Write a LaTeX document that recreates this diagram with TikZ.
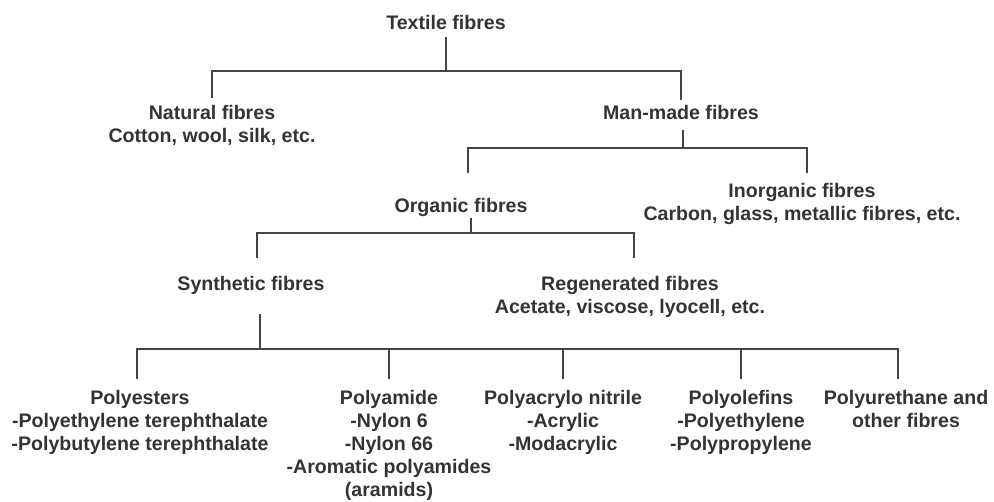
\documentclass[tikz,border=0pt]{standalone}
\usepackage{fontspec}
\setmainfont{Liberation Sans}
\usepackage{xcolor}
\usetikzlibrary{positioning,calc}
\definecolor{ink}{HTML}{333333}
\definecolor{wire}{HTML}{444444}

\begin{document}
\begin{tikzpicture}[
  x=0.5pt,y=-0.5pt,
  font=\fontsize{9.8}{11.5}\selectfont\bfseries,
  fib/.style={anchor=north,inner sep=0pt,align=center,text=ink},
  branch/.style={draw=wire,line width=1pt}
]
\useasboundingbox (0,0) rectangle (994,502);

% Fibre classes
\node[fib] (textile)   at (446,15)  {Textile fibres};
\node[fib] (natural)   at (212,105) {Natural fibres\\Cotton, wool, silk, etc.};
\node[fib] (manmade)   at (681,105) {Man-made fibres};
\node[fib] (organic)   at (461,198) {Organic fibres};
\node[fib] (inorganic) at (802,183) {Inorganic fibres\\Carbon, glass, metallic fibres, etc.};
\node[fib] (synthetic) at (251,276) {Synthetic fibres};
\node[fib] (regen)     at (630,276) {Regenerated fibres\\Acetate, viscose, lyocell, etc.};

% Synthetic families
\node[fib] (polyester) at (140,390) {Polyesters\\-Polyethylene terephthalate\\-Polybutylene terephthalate};
\node[fib] (polyamide) at (389,390) {Polyamide\\-Nylon 6\\-Nylon 66\\-Aromatic polyamides\\(aramids)};
\node[fib] (pan)       at (563,390) {Polyacrylo nitrile\\-Acrylic\\-Modacrylic};
\node[fib] (olefin)    at (741,390) {Polyolefins\\-Polyethylene\\-Polypropylene};
\node[fib] (pu)        at (906,390) {Polyurethane and\\other fibres};

% Joints of the tree
\coordinate (jtex) at (446,71);
\coordinate (jman) at (683,148);
\coordinate (jorg) at (471,233);
\coordinate (jsyn) at (260,349);

% Textile -> natural / man-made
\draw[branch] ([yshift=-3.5pt]textile.south) -- (jtex);
\draw[branch] ([yshift=3.5pt]natural.north) |- (jtex) -| ([yshift=2.5pt]manmade.north);

% Man-made -> organic / inorganic
\draw[branch] ([xshift=1pt,yshift=-5pt]manmade.south) -- (jman);
\draw[branch] ([xshift=3.5pt,yshift=12.5pt]organic.north) |- (jman) -| ([xshift=2.5pt,yshift=5pt]inorganic.north);

% Organic -> synthetic / regenerated
\draw[branch] ([xshift=5pt,yshift=-0.5pt]organic.south) -- (jorg);
\draw[branch] ([xshift=3pt,yshift=9pt]synthetic.north) |- (jorg) -| ([xshift=2pt,yshift=9pt]regen.north);

% Synthetic -> families
\draw[branch] ([xshift=4.5pt,yshift=-9.5pt]synthetic.south) -- (jsyn);
\draw[branch] ([xshift=-1.5pt,yshift=5.5pt]polyester.north) |- (jsyn) -| ([xshift=-4pt,yshift=5.5pt]pu.north);
\draw[branch] ([yshift=5.5pt]polyamide.north) -- (polyamide.north |- jsyn);
\draw[branch] ([yshift=5.5pt]pan.north) -- (pan.north |- jsyn);
\draw[branch] ([yshift=5.5pt]olefin.north) -- (olefin.north |- jsyn);
\end{tikzpicture}
\end{document}
